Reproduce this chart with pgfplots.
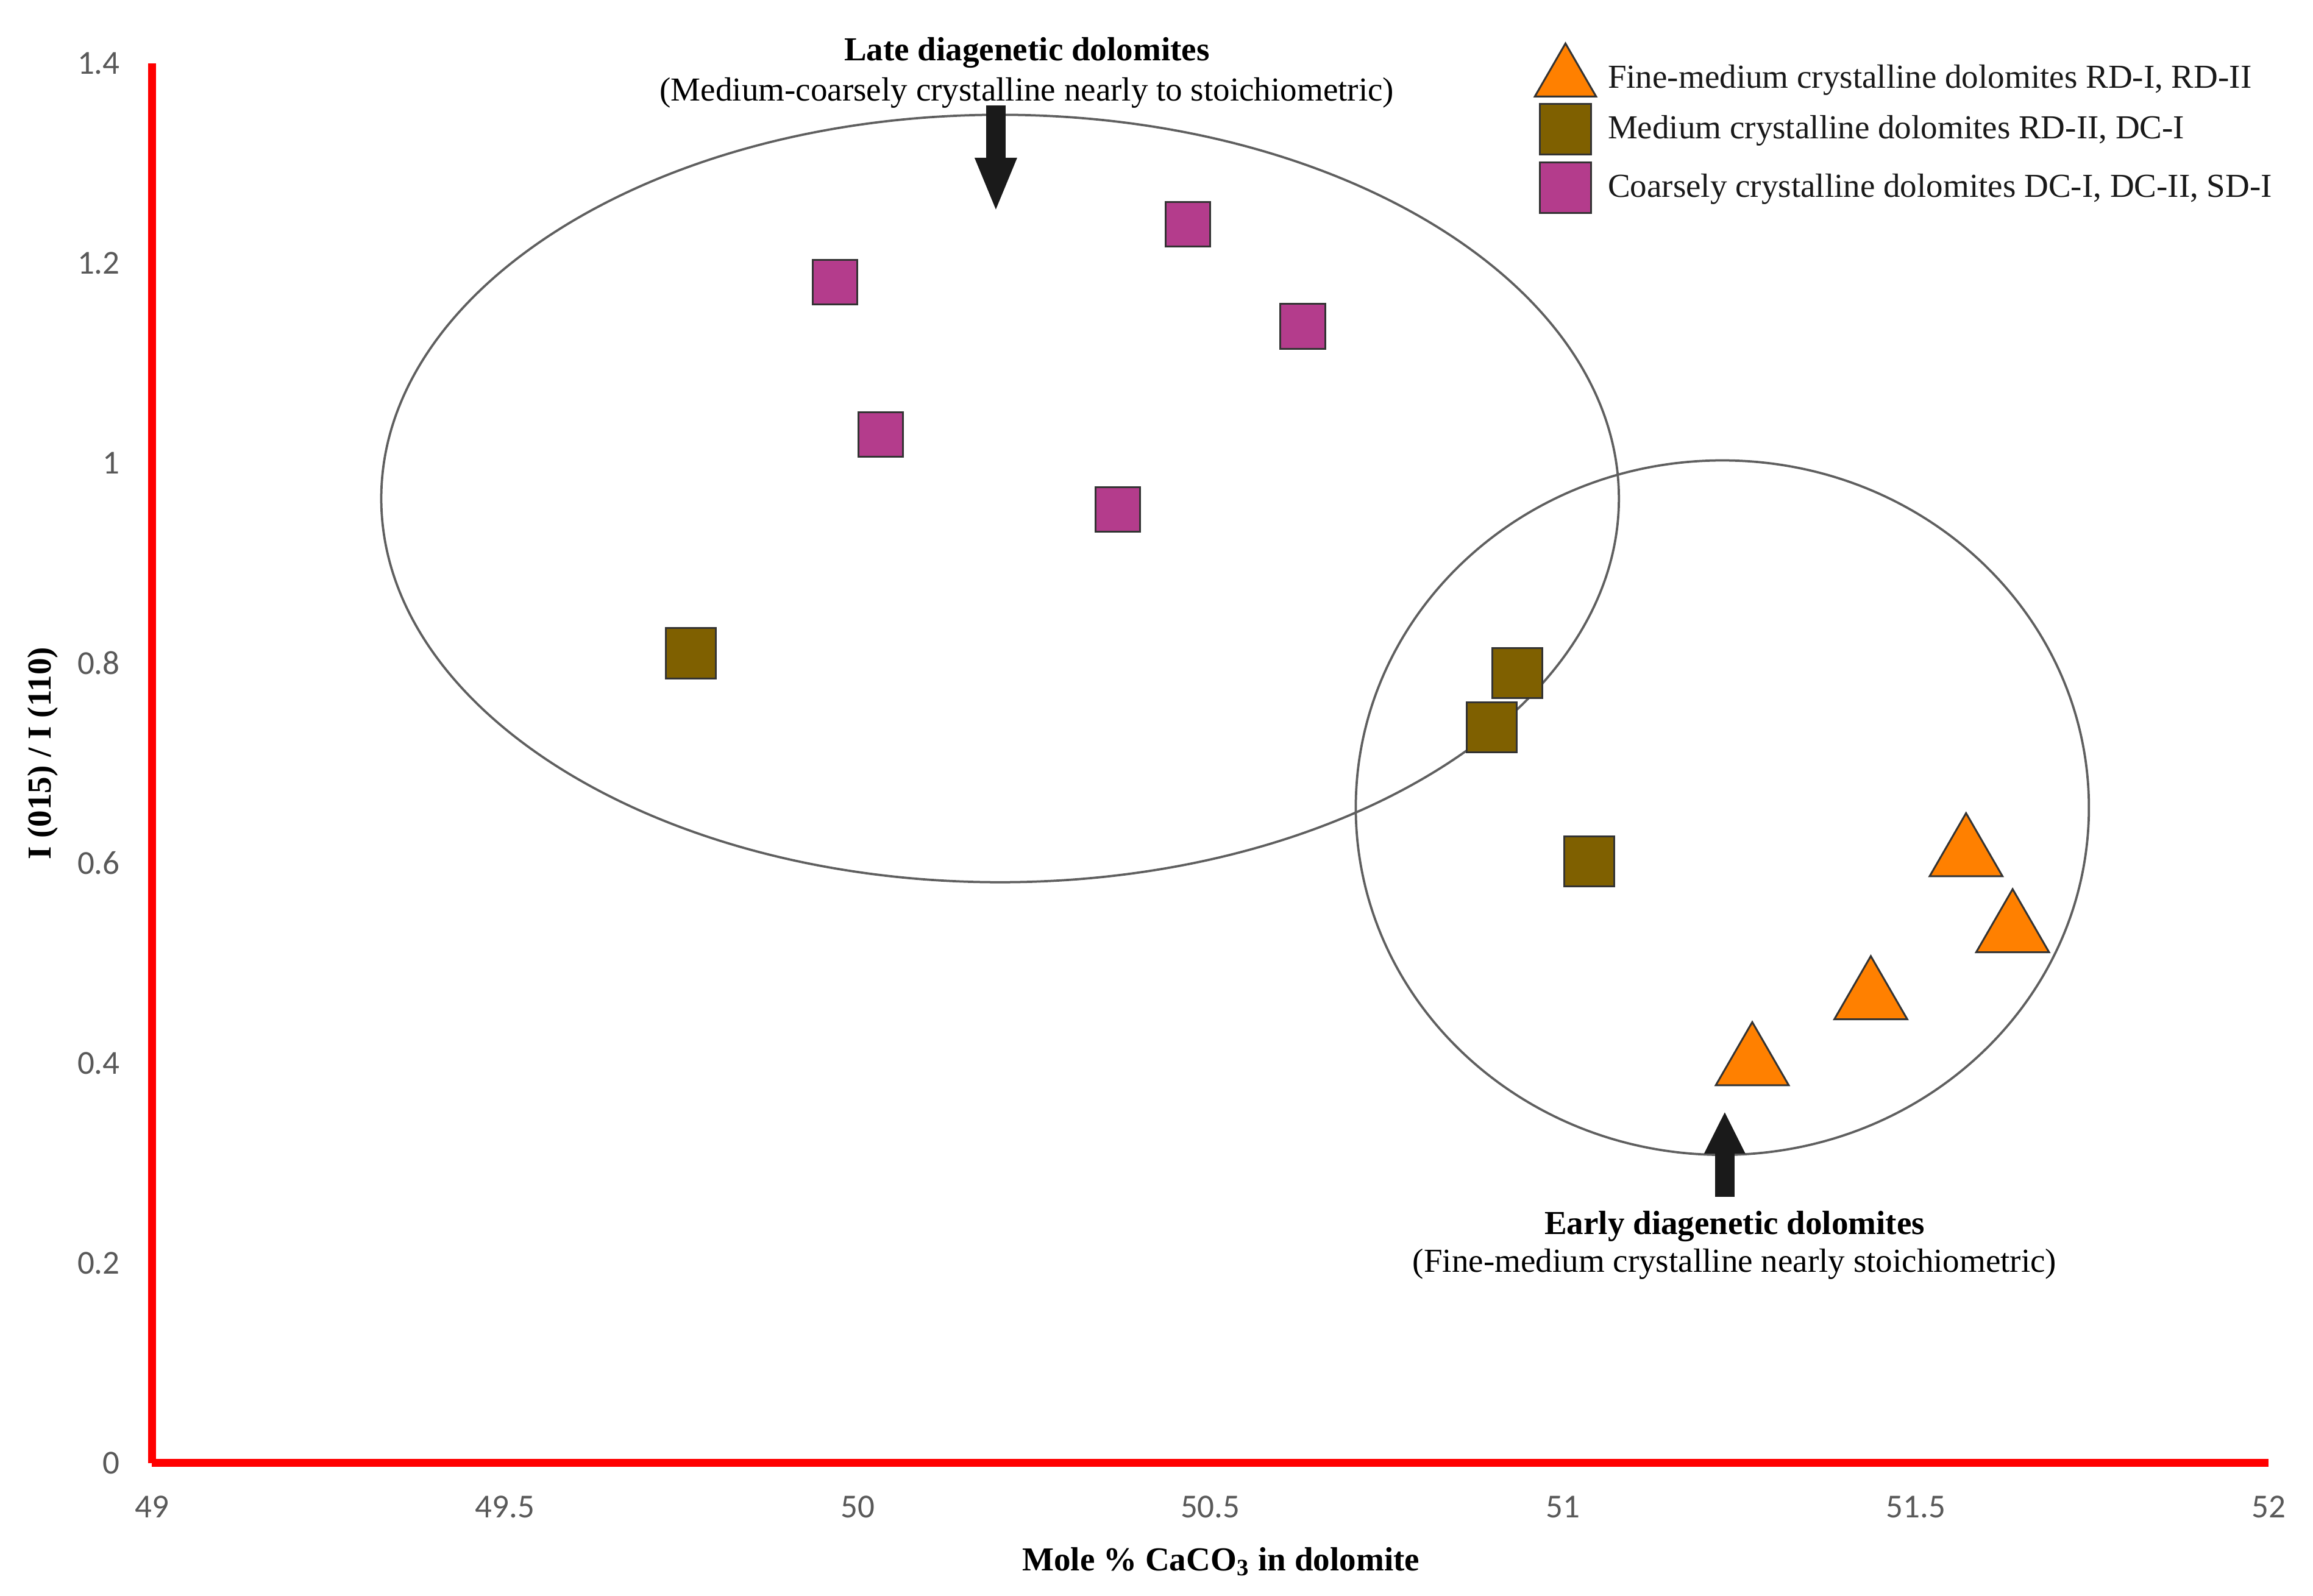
\documentclass[border=0pt]{standalone}
\usepackage{fontspec}
\setmainfont{Liberation Serif}
\newfontfamily\calibri{Carlito}
\usepackage{pgfplots}
\pgfplotsset{compat=1.18}
\usetikzlibrary{arrows.meta}

\definecolor{triorange}{RGB}{255,128,0}
\definecolor{sqbrown}{RGB}{127,96,0}
\definecolor{sqmagenta}{RGB}{180,60,140}
\definecolor{axisred}{RGB}{255,0,0}
\definecolor{tickgray}{RGB}{89,89,89}
\definecolor{ringgray}{RGB}{95,95,95}
\definecolor{arrowblack}{RGB}{26,26,26}

\pgfplotsset{
  legtri/.style={legend image code/.code={\draw[##1, mark size=11.6pt] plot coordinates {(0.3cm,0cm)};}},
  legsq/.style={legend image code/.code={\draw[##1, mark size=8.3pt] plot coordinates {(0.3cm,0cm)};}},
}

\begin{document}
\begin{tikzpicture}
\begin{axis}[
  scale only axis,
  width=24.395cm, height=16.133cm,
  xmin=49, xmax=52, ymin=0, ymax=1.4,
  xtick={49,49.5,50,50.5,51,51.5,52},
  ytick={0,0.2,0.4,0.6,0.8,1,1.2,1.4},
  axis x line*=bottom, axis y line*=left,
  axis line style={axisred, line width=2.6pt},
  major tick length=0pt,
  tick style={draw=none},
  ticklabel style={font=\calibri\fontsize{11}{13}\selectfont, text=tickgray},
  /pgf/number format/assume math mode=true,
  yticklabel style={xshift=-0.245cm},
  xticklabel style={yshift=-0.255cm},
  clip=false,
  legend cell align=left,
  legend style={at={(axis description cs:0.653,1.0147)}, anchor=north west,
    draw=none, fill=none, inner sep=0pt, row sep=2.5pt,
    font=\fontsize{11}{13}\selectfont, text=black!90,
    nodes={inner sep=1pt},
    /tikz/every odd column/.append style={column sep=0.1cm}},
]

% grouping outlines
\draw[ringgray, line width=0.75pt] (axis cs:50.202,0.9648) ellipse [x radius=0.877, y radius=0.3838];
\draw[ringgray, line width=0.75pt] (axis cs:51.2256,0.6556) ellipse [x radius=0.5195, y radius=0.3473];

\addplot[only marks, mark=triangle*, mark size=13.8pt,
  mark options={fill=triorange, draw=black!80, line width=0.6pt}, legtri]
  coordinates {(51.571,0.608) (51.637,0.532) (51.436,0.465) (51.268,0.399)};
\addlegendentry{Fine-medium crystalline dolomites RD-I, RD-II}

\addplot[only marks, mark=square*, mark size=8.2pt,
  mark options={fill=sqbrown, draw=black!80, line width=0.6pt}, legsq]
  coordinates {(49.764,0.810) (50.935,0.790) (50.899,0.736) (51.037,0.602)};
\addlegendentry{Medium crystalline dolomites RD-II, DC-I}

\addplot[only marks, mark=square*, mark size=7.3pt,
  mark options={fill=sqmagenta, draw=black!80, line width=0.6pt}, legsq]
  coordinates {(49.968,1.181) (50.468,1.239) (50.631,1.137) (50.033,1.029) (50.369,0.954)};
\addlegendentry{Coarsely crystalline dolomites DC-I, DC-II, SD-I}

% annotations
\node[font=\bfseries\fontsize{11}{13}\selectfont, anchor=base] at (axis cs:50.240,1.4027) {Late diagenetic dolomites};
\node[font=\fontsize{11}{13}\selectfont, anchor=base] at (axis cs:50.240,1.3628) {(Medium-coarsely crystalline nearly to stoichiometric)};
\node[font=\bfseries\fontsize{11}{13}\selectfont, anchor=base] at (axis cs:51.243,0.2286) {Early diagenetic dolomites};
\node[font=\fontsize{11}{13}\selectfont, anchor=base] at (axis cs:51.243,0.191) {(Fine-medium crystalline nearly stoichiometric)};

\draw[arrowblack, line width=6.5pt, -{Triangle[length=0.63cm, width=0.437cm]}]
  (axis cs:50.196,1.3577) -- (axis cs:50.196,1.251);
\draw[arrowblack, line width=6.5pt, -{Triangle[length=0.49cm, width=0.437cm]}]
  (axis cs:51.229,0.2665) -- (axis cs:51.229,0.352);

% axis titles
\node[font=\bfseries\fontsize{11}{13}\selectfont, anchor=base] at ([yshift=-1.241cm]axis description cs:0.505,0) {Mole \% CaCO\textsubscript{3} in dolomite};
\node[font=\bfseries\fontsize{11}{13}\selectfont, rotate=90, anchor=center] at ([xshift=-1.258cm]axis description cs:0,0.507) {I (015) / I (110)};
\end{axis}
\pgfresetboundingbox
\path ([shift={(-1.751cm,-1.53cm)}]current axis.south west) rectangle ([shift={(0.51cm,0.731cm)}]current axis.north east);
\end{tikzpicture}
\end{document}
